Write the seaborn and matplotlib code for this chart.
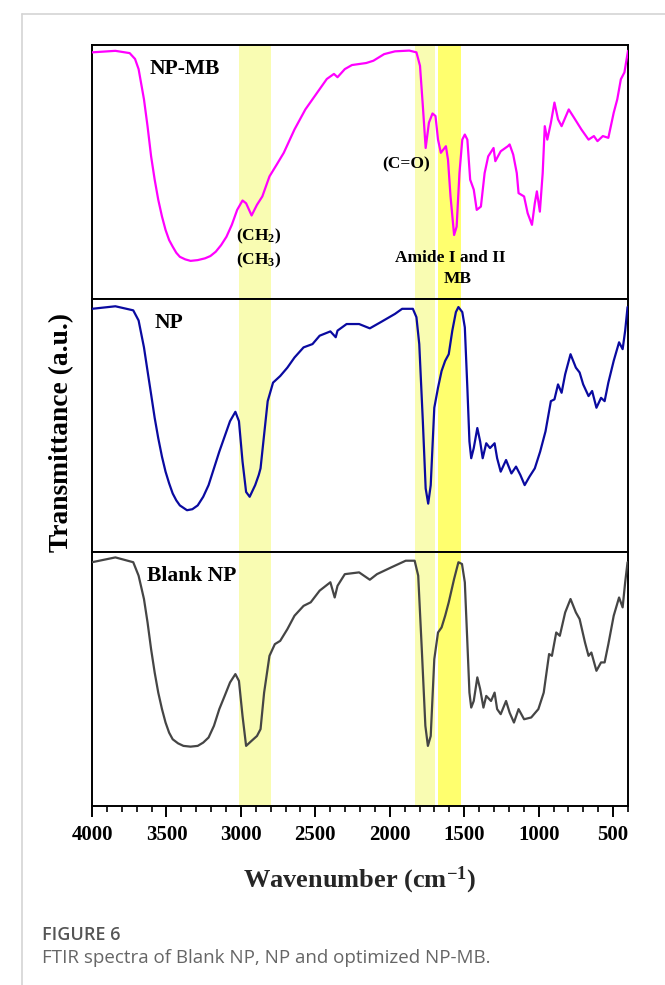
import matplotlib
matplotlib.use("Agg")
import matplotlib.pyplot as plt
from matplotlib.lines import Line2D
from matplotlib.ticker import MultipleLocator
import pandas as pd
import seaborn as sns

sns.set_style("white")
plt.rcParams["font.family"] = ["Liberation Serif", "DejaVu Serif"]
plt.rcParams["text.color"] = "black"
plt.rcParams["xtick.color"] = "black"
plt.rcParams["mathtext.fontset"] = "custom"
plt.rcParams["mathtext.rm"] = "Liberation Serif:bold"
plt.rcParams["mathtext.it"] = "Liberation Serif:bold"
plt.rcParams["mathtext.bf"] = "Liberation Serif:bold"

####
# digitised spectra (wavenumber, relative transmittance in each panel)
####

np_mb_wn = [4000, 3843, 3747, 3711, 3687, 3651, 3627, 3603, 3579, 3555, 3530, 3506, 3482, 3458,
            3434, 3410, 3374, 3338, 3290, 3241, 3205, 3169, 3133, 3097, 3061, 3025,
            2989, 2965, 2928, 2892, 2856, 2808, 2760, 2712, 2640, 2567, 2495, 2423,
            2375, 2351, 2302, 2254, 2158, 2110, 2038, 1965, 1869, 1821, 1797, 1778, 1759, 1737,
            1713, 1693, 1676, 1657, 1640, 1623, 1609, 1592, 1568, 1551, 1532, 1513, 1496, 1479,
            1460, 1436, 1416, 1388, 1363, 1339, 1303, 1291, 1255, 1207, 1195, 1171, 1147, 1135,
            1098, 1074, 1045, 1026, 1012, 992, 973, 959, 942, 918, 894, 870, 846, 798, 762, 713,
            665, 629, 605, 569, 532, 496, 472, 448, 424, 400]
np_mb_t = [0.971, 0.977, 0.968, 0.945, 0.905, 0.786, 0.680, 0.561, 0.469, 0.390, 0.324, 0.271,
           0.231, 0.205, 0.181, 0.165, 0.155, 0.149, 0.152, 0.159, 0.168, 0.185, 0.211, 0.244,
           0.291, 0.350,
           0.387, 0.376, 0.328, 0.370, 0.403, 0.482, 0.528, 0.575,
           0.667, 0.746, 0.806, 0.866, 0.886, 0.873, 0.905, 0.921, 0.929, 0.938, 0.964, 0.975,
           0.978, 0.971, 0.918, 0.760, 0.594, 0.694, 0.730, 0.720, 0.627, 0.575, 0.588, 0.601,
           0.548, 0.403, 0.251, 0.284, 0.495, 0.627, 0.647, 0.627, 0.469, 0.430, 0.350, 0.363,
           0.495, 0.561, 0.594, 0.542, 0.581, 0.601, 0.608, 0.568, 0.495, 0.416, 0.403, 0.337,
           0.291, 0.376, 0.423, 0.343, 0.495, 0.680, 0.627, 0.693, 0.773, 0.707, 0.680, 0.746,
           0.713, 0.667, 0.627, 0.641, 0.621, 0.641, 0.634, 0.733, 0.786, 0.865, 0.892, 0.977]

np_wn = [4000, 3843, 3723, 3687, 3651, 3627, 3603, 3579, 3555, 3530, 3506, 3482, 3458, 3434,
         3410, 3362, 3326, 3290, 3253, 3217, 3181, 3145, 3109,
         3073, 3037, 3013, 2989, 2965, 2941, 2904, 2880, 2868, 2844, 2820, 2784, 2736, 2688,
         2640, 2579, 2519, 2471, 2399, 2363, 2351, 2290, 2206, 2134, 2062, 1965, 1917, 1845,
         1821, 1802, 1778, 1759, 1742, 1725, 1701, 1676, 1652, 1628, 1604, 1580, 1556, 1539,
         1513, 1496, 1479, 1465, 1453, 1436, 1412, 1393, 1376, 1352, 1327, 1296, 1279, 1255,
         1219, 1183, 1152, 1123, 1094, 1062, 1026, 990, 954, 918, 894, 870, 846, 822, 786, 750,
         725, 701, 665, 641, 612, 581, 557, 532, 496, 460, 436, 419, 403]
np_t = [0.960, 0.970, 0.954, 0.914, 0.808, 0.715, 0.623, 0.530, 0.450, 0.377, 0.318, 0.272,
        0.232, 0.205, 0.185, 0.166, 0.170, 0.185, 0.219, 0.265, 0.331, 0.397, 0.457,
        0.517, 0.554, 0.517, 0.358, 0.238, 0.219, 0.265, 0.305, 0.331, 0.464,
        0.596, 0.669, 0.695, 0.728, 0.768, 0.808, 0.821, 0.854, 0.871, 0.848, 0.874, 0.900,
        0.900, 0.883, 0.907, 0.940, 0.960, 0.960, 0.927, 0.821, 0.517, 0.252, 0.192, 0.265,
        0.570, 0.649, 0.715, 0.755, 0.781, 0.874, 0.947, 0.967, 0.947, 0.887, 0.649, 0.437,
        0.371, 0.411, 0.490, 0.437, 0.371, 0.430, 0.411, 0.430, 0.371, 0.318, 0.364, 0.311,
        0.338, 0.305, 0.265, 0.298, 0.331, 0.397, 0.477, 0.596, 0.603, 0.662, 0.629, 0.702,
        0.781, 0.728, 0.709, 0.662, 0.616, 0.636, 0.570, 0.609, 0.596, 0.669, 0.755, 0.828,
        0.801, 0.874, 0.967]

blank_wn = [4000, 3843, 3723, 3687, 3651, 3627, 3603, 3579, 3555, 3530, 3506, 3482, 3458, 3422,
            3386, 3338, 3290, 3253, 3217, 3181, 3145, 3109, 3073,
            3037, 3013, 2989, 2965, 2928, 2892, 2868, 2844, 2808, 2772, 2736, 2688, 2640, 2579,
            2531, 2471, 2399, 2370, 2351, 2302, 2206, 2134, 2086, 1989, 1893, 1833, 1809, 1785,
            1761, 1744, 1725, 1701, 1676, 1652, 1628, 1604, 1568, 1539, 1515, 1496, 1479, 1465,
            1453, 1436, 1412, 1393, 1371, 1352, 1320, 1296, 1279, 1255, 1219, 1195, 1166, 1135,
            1098, 1050, 1002, 966, 930, 911, 882, 858, 822, 786, 750, 725, 689, 665, 646, 612,
            581, 557, 532, 496, 460, 436, 419, 403]
blank_t = [0.961, 0.980, 0.961, 0.908, 0.816, 0.724, 0.618, 0.526, 0.447, 0.382, 0.329, 0.289,
           0.263, 0.247, 0.237, 0.234, 0.237, 0.250, 0.270, 0.316, 0.382, 0.434, 0.487,
           0.520, 0.493, 0.355, 0.237, 0.257, 0.276, 0.303, 0.447, 0.592, 0.638,
           0.651, 0.697, 0.750, 0.789, 0.803, 0.849, 0.882, 0.822, 0.868, 0.914, 0.921, 0.892,
           0.914, 0.941, 0.967, 0.967, 0.908, 0.618, 0.316, 0.237, 0.276, 0.579, 0.684, 0.704,
           0.750, 0.803, 0.895, 0.961, 0.954, 0.882, 0.645, 0.447, 0.388, 0.414, 0.507, 0.461,
           0.388, 0.434, 0.414, 0.447, 0.382, 0.362, 0.414, 0.368, 0.329, 0.382, 0.342, 0.349,
           0.382, 0.447, 0.599, 0.592, 0.684, 0.671, 0.763, 0.816, 0.763, 0.737, 0.645, 0.592,
           0.605, 0.533, 0.566, 0.566, 0.638, 0.750, 0.822, 0.783, 0.882, 0.961]

panel_names = ["NP-MB", "NP", "Blank NP"]

# highlighted bands (cm-1)
band_low = [2800, 1695, 1520]
band_high = [3010, 1830, 1675]

xticks = [4000, 3500, 3000, 2500, 2000, 1500, 1000, 500]

spectra = [(np_mb_wn, np_mb_t), (np_wn, np_t), (blank_wn, blank_t)]
line_colors = ["#ff00ff", "#0a0aa0", "#454545"]
band_colors = ["#f9fcb2", "#f9fcb2", "#ffff6e"]
label_x = [3615, 3583, 3632]

fig = plt.figure(figsize=(6.65, 9.85), dpi=100)
left, right = 92 / 665, 628 / 665
top, bottom = 1 - 45 / 985, 1 - 806 / 985
h = (top - bottom) / 3

axes = []
for i in range(3):
    ax = fig.add_axes([left, top - (i + 1) * h, right - left, h])
    wn, t = spectra[i]
    df = pd.DataFrame({"wn": wn, "t": t})
    for lo, hi, c in zip(band_low, band_high, band_colors):
        ax.axvspan(lo, hi, color=c, lw=0, zorder=0)
    sns.lineplot(data=df, x="wn", y="t", ax=ax, color=line_colors[i], lw=1.6, zorder=3)
    ax.set_xlim(4000, 400)
    ax.set_ylim(0, 1.0)
    ax.set_yticks([])
    ax.set_ylabel("")
    ax.set_xlabel("")
    for s in ax.spines.values():
        s.set_linewidth(1.4)
        s.set_color("black")
    ax.text(label_x[i], 0.905, panel_names[i], fontsize=15.5, fontweight="bold", ha="left", va="center")
    if i < 2:
        ax.set_xticks([])
    axes.append(ax)

ax = axes[2]
ax.set_xticks(xticks)
ax.set_xticklabels([str(v) for v in xticks], fontsize=15, fontweight="bold")
ax.xaxis.set_minor_locator(MultipleLocator(100))
ax.tick_params(axis="x", which="major", direction="out", length=8, width=1.4, bottom=True, pad=6)
ax.tick_params(axis="x", which="minor", direction="out", length=4.5, width=1.2, bottom=True)
ax.set_xlabel("Wavenumber (cm$^{-1}$)", fontsize=19, fontweight="bold", labelpad=14)

# annotations on the NP-MB panel
a0 = axes[0]
a0.text(2880, 0.244, "(CH$_\\mathrm{2}$)", fontsize=12.5, fontweight="bold", ha="center", va="center")
a0.text(2880, 0.150, "(CH$_\\mathrm{3}$)", fontsize=12.5, fontweight="bold", ha="center", va="center")
a0.text(1893, 0.528, "(C=O)", fontsize=12.5, fontweight="bold", ha="center", va="center")
a0.text(1592, 0.159, "Amide I and II", fontsize=12.5, fontweight="bold", ha="center", va="center")
a0.text(1544, 0.079, "MB", fontsize=12.5, fontweight="bold", ha="center", va="center")

fig.text(62 / 665, 1 - 432 / 985, "Transmittance (a.u.)", rotation=90, fontsize=19.8,
         fontweight="bold", ha="center", va="center")

# page frame and caption
fig.add_artist(Line2D([22 / 665, 1], [1 - 14 / 985] * 2, color="#d4d4d4", lw=1.2))
fig.add_artist(Line2D([22 / 665] * 2, [0, 1 - 14 / 985], color="#d4d4d4", lw=1.2))
fig.text(42 / 665, 1 - 935 / 985, "FIGURE 6", fontsize=13, family="Open Sans",
         fontweight="semibold", color="#555555", ha="left", va="center")
fig.text(42 / 665, 1 - 958 / 985, "FTIR spectra of Blank NP, NP and optimized NP-MB.", fontsize=13.5,
         family="Open Sans", color="#666666", ha="left", va="center")

fig.savefig("out.png", dpi=100)
plt.close()
